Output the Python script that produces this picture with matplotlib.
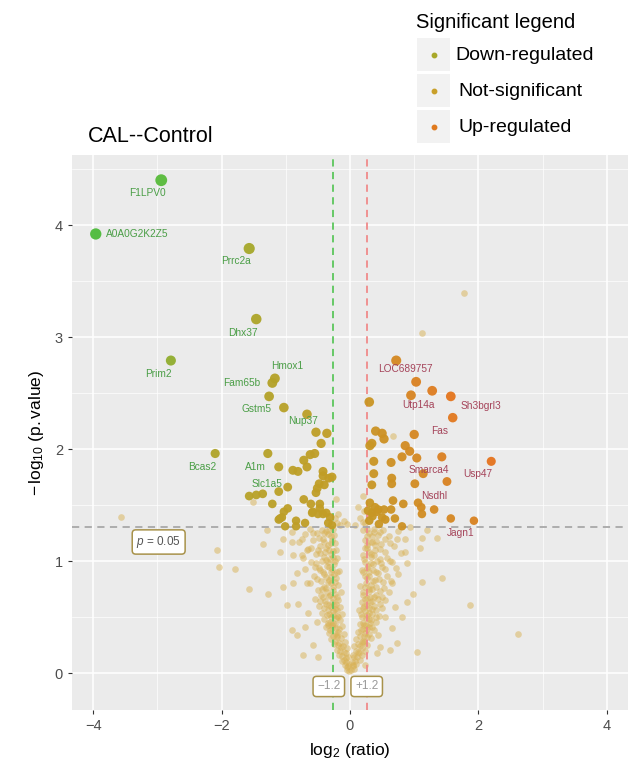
import numpy as np
import matplotlib
matplotlib.use("Agg")
import matplotlib.pyplot as plt
from matplotlib.colors import LinearSegmentedColormap, Normalize
from matplotlib.patches import Rectangle

plt.rcParams['font.family'] = ['Liberation Sans', 'DejaVu Sans']
plt.rcParams['mathtext.fontset'] = 'custom'
plt.rcParams['mathtext.rm'] = 'Liberation Sans'
plt.rcParams['mathtext.it'] = 'Liberation Sans:italic'

# ---- labelled significant proteins: name, log2 ratio, -log10 p, label x, label y
down_names = ['F1LPV0', 'A0A0G2K2Z5', 'Prrc2a', 'Dhx37', 'Prim2', 'Hmox1', 'Fam65b',
              'Gstm5', 'Nup37', 'Bcas2', 'A1m', 'Slc1a5']
down_x = [-2.94, -3.96, -1.57, -1.46, -2.79, -1.17, -1.21, -1.03, -0.67, -2.10, -1.28, -1.11]
down_y = [4.40, 3.92, 3.79, 3.16, 2.79, 2.63, 2.59, 2.37, 2.31, 1.96, 1.96, 1.62]
down_lab_x = [-3.15, -3.80, -1.78, -1.67, -2.99, -0.98, -1.68, -1.45, -0.73, -2.31, -1.48, -1.29]
down_lab_y = [4.29, 3.92, 3.68, 3.04, 2.67, 2.74, 2.59, 2.36, 2.25, 1.84, 1.84, 1.69]

up_names = ['LOC689757', 'Utp14a', 'Sh3bgrl3', 'Fas', 'Smarca4', 'Usp47', 'Nsdhl', 'Jagn1']
up_x = [0.72, 0.95, 1.57, 1.60, 1.14, 2.20, 1.43, 1.93]
up_y = [2.79, 2.48, 2.47, 2.28, 1.78, 1.89, 1.93, 1.36]
up_lab_x = [0.86, 1.07, 2.04, 1.40, 1.23, 1.99, 1.31, 1.73]
up_lab_y = [2.71, 2.39, 2.38, 2.16, 1.81, 1.78, 1.58, 1.25]

# ---- other significant proteins (unlabelled)
sig_x = [-1.26, -0.53, -0.36, -0.45, -0.62, -0.55, -0.72, -1.11, -0.89, -0.81, -0.67, -0.42,
         -0.42, -0.33, -0.28, -0.48, -0.40, -0.97, -0.51, -0.53, -0.72, -0.61, -0.47, -1.21,
         -0.97, -1.03, -0.58, -0.50, -0.42, -1.06, -1.11, -0.84, -0.70, -0.34, -1.01, -0.84,
         -0.28, -1.57, -1.46, -1.36, -1.09, -0.59, -0.47, -0.37, -0.31,
         1.03, 1.28, 0.30, 0.40, 0.50, 0.53, 0.34, 0.31, 1.00, 0.86, 0.93, 0.81, 1.04,
         0.37, 0.64, 0.37, 0.65, 0.34, 0.65, 1.01, 1.51, 0.67, 0.83, 1.06, 1.11,
         1.31, 0.31, 0.39, 0.44, 0.53, 0.64, 0.34, 0.50, 0.70, 1.12, 1.57, 0.81,
         0.28, 0.35, 0.42, 0.30, 0.45, 0.55]
sig_y = [2.47, 2.15, 2.14, 2.05, 1.95, 1.96, 1.90, 1.84, 1.81, 1.80, 1.84, 1.80,
         1.76, 1.74, 1.75, 1.69, 1.68, 1.66, 1.65, 1.61, 1.55, 1.51, 1.51, 1.51,
         1.47, 1.44, 1.44, 1.42, 1.42, 1.39, 1.37, 1.36, 1.34, 1.34, 1.31, 1.31,
         1.32, 1.58, 1.59, 1.60, 1.38, 1.43, 1.47, 1.43, 1.39,
         2.60, 2.52, 2.42, 2.16, 2.14, 2.09, 2.05, 2.03, 2.13, 2.03, 1.98, 1.93, 1.92,
         1.89, 1.88, 1.78, 1.74, 1.68, 1.69, 1.69, 1.71, 1.54, 1.51, 1.52, 1.48,
         1.46, 1.52, 1.48, 1.46, 1.46, 1.46, 1.43, 1.39, 1.38, 1.42, 1.38, 1.31,
         1.45, 1.40, 1.44, 1.36, 1.33, 1.37]

# ---- not significant proteins
ns_x = [-0.02, -0.04, -0.01, -0.06, -0.09, -0.03, -0.12, -0.07, -0.15, -0.05, -0.11, -0.19,
        -0.08, -0.23, -0.14, -0.27, -0.10, -0.18, -0.31, -0.22, -0.13, -0.35, -0.26, -0.16,
        -0.40, -0.30, -0.20, -0.12, -0.44, -0.34, -0.24, -0.15, -0.48, -0.38, -0.28, -0.19,
        -0.55, -0.42, -0.32, -0.23, -0.14, -0.50, -0.37, -0.27, -0.18, -0.62, -0.45, -0.33,
        -0.22, -0.56, -0.40, -0.29, -0.17, -0.70, -0.49, -0.36, -0.25, -0.60, -0.44, -0.31,
        -0.20, -0.75, -0.53, -0.39, -0.27, -0.66, -0.47, -0.34, -0.23, -0.80, -0.58, -0.42,
        -0.30, -0.70, -0.51, -0.37, -0.26, -0.90, -0.62,
        -0.05, -0.08, -0.13, -0.17, -0.21, -0.25, -0.29, -0.21, -0.33, -0.37, -0.28, -0.22,
        -0.36, -0.27, -0.41, -0.33, -0.22, -0.46, -0.26, -0.36, -0.43, -0.29, -0.51, -0.38,
        -0.25, -0.46, -0.32, -0.53, -0.38, -0.26, -0.46, -0.33, -0.60, -0.40, -0.28, -0.49,
        -0.35, -0.44,
        -0.03, -0.06, -0.10, -0.14, -0.17, -0.20, -0.24, -0.17, -0.28, -0.23, -0.31, -0.18,
        -0.26, -0.33, -0.21, -0.30, -0.25, -0.39, -0.20, -0.31, -0.26, -0.40, -0.23, -0.35,
        -0.30, -0.20, -0.42, -0.28, -0.34, -0.23, -0.29, -0.40, -0.22, -0.37, -0.30, -0.25,
        -0.40, -0.32, -0.55, -0.50, -0.57, -0.45, -0.35,
        -3.57, -2.07, -2.04, -1.79, -1.57, -1.28, -1.29, -1.36, -1.04, -1.09, -0.90, -0.89,
        -0.75, -0.67, -0.73, -0.83, -0.89, -1.04, -0.67, -0.98, -0.81, -0.90, -0.83, -0.70,
        -0.73, -0.58, -0.50, -0.65, -0.51,
        0.02, 0.05, 0.03, 0.08, 0.11, 0.05, 0.14, 0.09, 0.18, 0.06, 0.13, 0.22,
        0.10, 0.26, 0.16, 0.30, 0.12, 0.21, 0.35, 0.25, 0.15, 0.40, 0.29, 0.19,
        0.45, 0.34, 0.23, 0.14, 0.50, 0.38, 0.27, 0.18, 0.55, 0.43, 0.31, 0.21,
        0.60, 0.47, 0.35, 0.24, 0.16, 0.66, 0.52, 0.39, 0.27, 0.58, 0.43, 0.30,
        0.19, 0.72, 0.50, 0.36, 0.24, 0.63, 0.46, 0.32, 0.20, 0.80, 0.55, 0.39,
        0.27, 0.68, 0.49, 0.35, 0.23, 0.85, 0.60, 0.43, 0.30, 0.74, 0.52, 0.38, 0.21,
        0.07, 0.10, 0.15, 0.19, 0.23, 0.27, 0.20, 0.33, 0.24, 0.37, 0.29, 0.20,
        0.33, 0.41, 0.27, 0.40, 0.30, 0.22, 0.46, 0.35, 0.26, 0.40, 0.29, 0.53,
        0.33, 0.45, 0.23, 0.36, 0.55, 0.28, 0.42, 0.58, 0.33, 0.46, 0.26, 0.41,
        0.54, 0.34, 0.46,
        0.04, 0.07, 0.12, 0.16, 0.18, 0.22, 0.17, 0.27, 0.22, 0.31, 0.25, 0.17,
        0.29, 0.35, 0.21, 0.31, 0.24, 0.37, 0.20, 0.30, 0.41, 0.25, 0.36, 0.30,
        0.21, 0.41, 0.26, 0.33, 0.22, 0.38, 0.29, 0.24, 0.39, 0.31, 0.27, 0.37,
        0.26, 0.50, 0.48, 0.62, 0.64,
        1.43, 1.87, 2.62, 0.93, 1.12, 1.36, 1.20, 0.73, 0.86, 1.09, 0.89, 0.65,
        1.12, 0.75, 0.89, 0.98, 0.70, 0.81, 0.55, 0.65, 0.44, 0.73, 0.62, 1.04,
        0.42, 0.23, 0.47,
        -0.22, -0.18, -0.10, -0.24, -0.05, 0.20, 0.22, 0.16, 0.24, 0.08, -0.15, 0.12,
        1.78, 1.12, 0.67, -1.51, 0.20, -0.20]
ns_y = [0.02, 0.05, 0.08, 0.10, 0.12, 0.14, 0.15, 0.18, 0.20, 0.22, 0.24, 0.25,
        0.28, 0.29, 0.31, 0.33, 0.35, 0.37, 0.38, 0.40, 0.42, 0.43, 0.45, 0.47,
        0.48, 0.50, 0.51, 0.53, 0.54, 0.56, 0.57, 0.59, 0.60, 0.62, 0.63, 0.65,
        0.66, 0.68, 0.69, 0.71, 0.72, 0.74, 0.76, 0.77, 0.79, 0.80, 0.82, 0.83,
        0.85, 0.87, 0.88, 0.90, 0.91, 0.93, 0.94, 0.96, 0.97, 0.99, 1.00, 1.02,
        1.03, 1.05, 1.06, 1.08, 1.09, 1.11, 1.13, 1.14, 1.16, 1.17, 1.19, 1.20,
        1.22, 1.24, 1.25, 1.27, 1.29, 1.26, 1.29,
        0.03, 0.07, 0.11, 0.16, 0.21, 0.26, 0.30, 0.34, 0.36, 0.41, 0.43, 0.49,
        0.52, 0.55, 0.58, 0.61, 0.62, 0.64, 0.67, 0.72, 0.75, 0.80, 0.84, 0.86,
        0.88, 0.92, 0.95, 0.98, 1.01, 1.04, 1.07, 1.10, 1.12, 1.17, 1.19, 1.21,
        1.24, 1.28,
        0.06, 0.13, 0.19, 0.23, 0.27, 0.32, 0.35, 0.39, 0.40, 0.44, 0.46, 0.50,
        0.52, 0.53, 0.56, 0.59, 0.61, 0.64, 0.68, 0.70, 0.74, 0.77, 0.81, 0.81,
        0.86, 0.90, 0.90, 0.93, 0.99, 1.00, 1.06, 1.04, 1.10, 1.12, 1.16, 1.23,
        1.25, 1.28, 0.95, 1.10, 1.25, 0.70, 0.45,
        1.39, 1.10, 0.95, 0.93, 0.75, 0.71, 1.28, 1.15, 1.20, 1.08, 1.17, 1.05,
        1.20, 1.10, 1.03, 0.89, 0.80, 0.77, 0.80, 0.61, 0.62, 0.38, 0.34, 0.41,
        0.16, 0.25, 0.14, 0.54, 0.46,
        0.03, 0.06, 0.10, 0.11, 0.14, 0.16, 0.18, 0.20, 0.22, 0.24, 0.26, 0.28,
        0.30, 0.32, 0.33, 0.35, 0.37, 0.39, 0.41, 0.43, 0.44, 0.46, 0.48, 0.50,
        0.51, 0.53, 0.55, 0.56, 0.58, 0.60, 0.61, 0.63, 0.65, 0.66, 0.68, 0.70,
        0.72, 0.73, 0.75, 0.77, 0.78, 0.80, 0.81, 0.83, 0.85, 0.87, 0.89, 0.90,
        0.92, 0.94, 0.95, 0.97, 0.99, 1.00, 1.02, 1.04, 1.05, 1.07, 1.08, 1.10,
        1.12, 1.13, 1.15, 1.17, 1.19, 1.20, 1.22, 1.23, 1.25, 1.27, 1.28, 1.29, 1.28,
        0.04, 0.08, 0.12, 0.16, 0.20, 0.25, 0.29, 0.31, 0.36, 0.38, 0.41, 0.45,
        0.47, 0.50, 0.52, 0.56, 0.58, 0.60, 0.62, 0.64, 0.67, 0.70, 0.73, 0.76,
        0.79, 0.84, 0.87, 0.92, 0.93, 0.96, 1.00, 1.03, 1.06, 1.11, 1.14, 1.18,
        1.20, 1.22, 1.26,
        0.07, 0.14, 0.19, 0.24, 0.28, 0.33, 0.38, 0.39, 0.43, 0.45, 0.49, 0.53,
        0.54, 0.57, 0.58, 0.63, 0.66, 0.68, 0.72, 0.75, 0.77, 0.80, 0.82, 0.87,
        0.90, 0.90, 0.94, 0.98, 1.02, 1.05, 1.08, 1.12, 1.14, 1.17, 1.22, 1.26,
        1.29, 0.68, 0.98, 1.16, 0.82,
        0.85, 0.61, 0.35, 1.30, 1.21, 1.21, 1.28, 1.20, 1.08, 1.12, 0.98, 0.99,
        0.81, 0.88, 0.63, 0.71, 0.59, 0.50, 0.50, 0.40, 0.34, 0.27, 0.21, 0.19,
        0.18, 0.07, 0.23,
        1.55, 1.42, 1.36, 1.38, 1.33, 1.58, 1.45, 1.38, 1.34, 1.32, 1.32, 1.48,
        3.39, 3.04, 2.12, 1.53, 1.35, 1.34]

fc_cut = np.log2(1.2)
p_cut = -np.log10(0.05)

# colour runs from green (strong down) over olive and gold to orange (strong up)
cmap = LinearSegmentedColormap.from_list(
    'volc', [(0.0, '#4cbb3a'), (0.16, '#58bb3a'), (0.49, '#a6a82a'),
             (0.78, '#c49c26'), (1.0, '#e8701c')])
norm = Normalize(-16, 4.5)

def point_size(y):
    d = 7.0 + 1.1 * np.asarray(y)
    return (d * 0.72) ** 2

all_x = np.array(down_x + up_x + sig_x)
all_y = np.array(down_y + up_y + sig_y)

fig = plt.figure(figsize=(6.31, 7.71), dpi=100)
ax = fig.add_axes([72 / 631, 1 - 710 / 771, 556 / 631, 555 / 771])
ax.set_facecolor('#ebebeb')
for s in ax.spines.values():
    s.set_visible(False)

ax.set_xlim(-4.33, 4.33)
ax.set_ylim(-0.33, 4.625)
ax.set_xticks([-4, -2, 0, 2, 4])
ax.set_yticks([0, 1, 2, 3, 4])
ax.set_xticks([-3, -1, 1, 3], minor=True)
ax.set_yticks([0.5, 1.5, 2.5, 3.5, 4.5], minor=True)
ax.grid(True, which='major', color='white', linewidth=1.1)
ax.grid(True, which='minor', color='white', linewidth=0.5)
ax.set_axisbelow(True)
ax.tick_params(which='major', length=3, width=0.8, color='#333333',
               labelsize=10.5, labelcolor='#4d4d4d')
ax.tick_params(which='minor', length=0)

ax.scatter(ns_x, ns_y, s=23, color='#d9b255', alpha=0.5, linewidths=0, zorder=2)

ax.axvline(-fc_cut, color='#5cc65c', linestyle=(0, (4, 3)), linewidth=1.3, zorder=3)
ax.axvline(fc_cut, color='#f08a8a', linestyle=(0, (4, 3)), linewidth=1.3, zorder=3)
ax.axhline(p_cut, color='#a8a8a8', linestyle=(0, (4, 3)), linewidth=1.3, zorder=3)

ax.scatter(all_x, all_y, s=point_size(all_y), c=all_x * all_y, cmap=cmap, norm=norm,
           linewidths=0, alpha=0.95, zorder=4)

for name, lx, ly in zip(down_names, down_lab_x, down_lab_y):
    ha = 'left' if name == 'A0A0G2K2Z5' else 'center'
    ax.text(lx, ly, name, fontsize=7.3, color='#4a9e46', ha=ha, va='center', zorder=5)
for name, lx, ly in zip(up_names, up_lab_x, up_lab_y):
    ax.text(lx, ly, name, fontsize=7.3, color='#a5445a', ha='center', va='center', zorder=5)

box = dict(boxstyle='round,pad=0.35,rounding_size=0.3', facecolor='white',
           edgecolor='#a8924a', linewidth=1.1)
ax.text(-2.98, 1.17, r'$p$ = 0.05', fontsize=8.5, color='#555555', ha='center',
        va='center', bbox=box, zorder=6)
ax.text(-0.33, -0.12, '\u22121.2', fontsize=8.5, color='#9a9a9a', ha='center',
        va='center', bbox=box, zorder=6)
ax.text(0.26, -0.12, '+1.2', fontsize=8.5, color='#9a9a9a', ha='center',
        va='center', bbox=box, zorder=6)

ax.set_xlabel(r'$\log_2\,(\mathrm{ratio})$', fontsize=12.5, labelpad=6)
ax.set_ylabel(r'$-\,\log_{10}\,(\mathrm{p.value})$', fontsize=12.5, labelpad=6)
ax.set_title('CAL--Control', fontsize=15.5, loc='left', x=0.028, pad=9)

# legend drawn by hand, ggplot style
fig.text(416 / 631, 1 - 22 / 771, 'Significant legend', fontsize=14.5, ha='left', va='center')
leg_labels = ['Down-regulated', 'Not-significant', 'Up-regulated']
leg_colors = ['#a8a82a', '#c9a02a', '#e07a1e']
leg_text_x = [455, 458, 458]
for i, (lab, col) in enumerate(zip(leg_labels, leg_colors)):
    top = 38 + 36 * i
    fig.patches.append(Rectangle((417 / 631, 1 - (top + 33) / 771), 33 / 631, 33 / 771,
                                 transform=fig.transFigure, facecolor='#f2f2f2',
                                 edgecolor='none'))
    fig.add_artist(plt.Line2D([433.5 / 631], [1 - (top + 17) / 771], marker='o',
                              markersize=3.2, color=col, linestyle='none',
                              transform=fig.transFigure))
    fig.text(leg_text_x[i] / 631, 1 - (top + 17) / 771, lab, fontsize=14,
             ha='left', va='center')

fig.savefig('out.png', dpi=100)
